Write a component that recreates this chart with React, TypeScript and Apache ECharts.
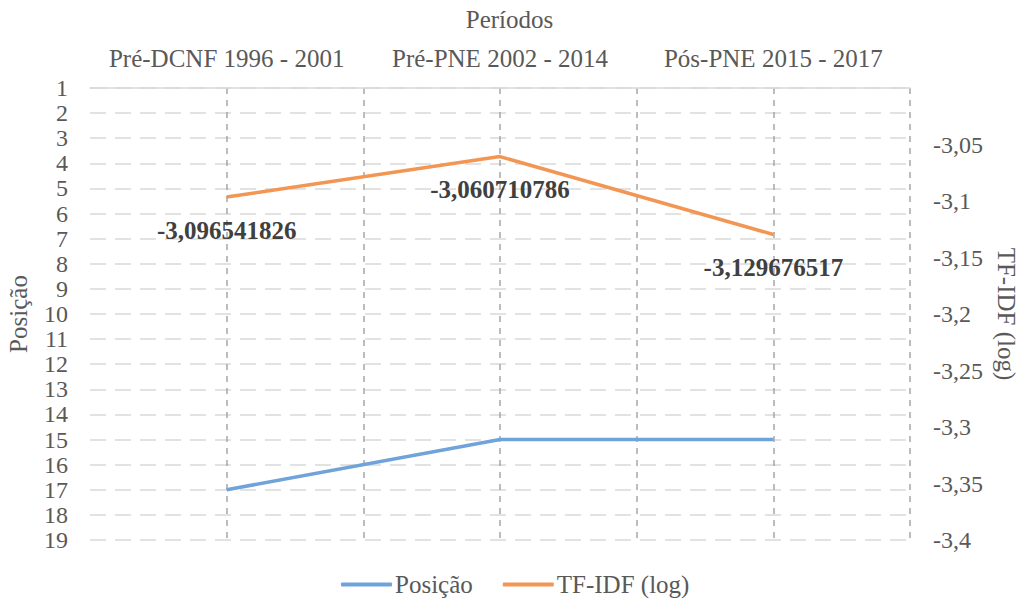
import React, { useEffect, useRef } from "react";
import * as echarts from "echarts";

const categories = ["Pré-DCNF 1996 - 2001", "Pré-PNE 2002 - 2014", "Pós-PNE 2015 - 2017"];
const posicao = [17, 15, 15];
const tfidf = [-3.096541826, -3.060710786, -3.129676517];
const FONT = "'Liberation Serif', 'Times New Roman', serif";
const TXT = "#595959";

export default function App() {
  const ref = useRef<HTMLDivElement>(null);
  useEffect(() => {
    if (!ref.current) return;
    const chart = echarts.init(ref.current, undefined, { renderer: "svg" });
    const fmtComma = (v: number) => String(v).replace(".", ",");
    chart.setOption({
      animation: false,
      textStyle: { fontFamily: FONT },
      title: {
        text: "Períodos",
        left: "center",
        top: 2,
        textStyle: { fontFamily: FONT, fontSize: 25, fontWeight: "normal", color: TXT },
      },
      legend: {
        top: 567,
        left: 336,
        icon: "roundRect",
        itemWidth: 51,
        itemHeight: 4,
        itemGap: 30,
        textStyle: { fontFamily: FONT, fontSize: 25, color: TXT, padding: [0, 0, 0, -2] },
        data: ["Posição", "TF-IDF (log)"],
      },
      grid: { left: 90, right: 109, top: 88, bottom: 63, containLabel: false, outerBoundsMode: "none" },
      xAxis: [
        {
          type: "category",
          data: categories,
          position: "top",
          boundaryGap: true,
          axisLine: { show: true, lineStyle: { color: "#d9d9d9", width: 1.5 } },
          axisTick: { show: false },
          splitLine: { show: false },
          axisLabel: {
            fontFamily: FONT,
            fontSize: 25,
            color: TXT,
            margin: 17,
            interval: 0,
            hideOverlap: false,
          },
        },
        {
          type: "value",
          min: 0,
          max: 6,
          interval: 1,
          position: "bottom",
          show: true,
          axisLine: { show: false },
          axisTick: { show: false },
          axisLabel: { show: false },
          splitLine: {
            show: true,
            lineStyle: {
              color: ["rgba(0,0,0,0)", "#a6a6a6", "#a6a6a6", "#a6a6a6", "#a6a6a6", "#a6a6a6", "#a6a6a6"],
              type: [6, 6],
              width: 1.5,
            },
          },
        },
      ],
      yAxis: [
        {
          type: "value",
          min: 1,
          max: 19,
          interval: 1,
          inverse: true,
          position: "left",
          name: "Posição",
          nameLocation: "middle",
          nameGap: 59,
          nameTextStyle: { fontFamily: FONT, fontSize: 25, color: TXT },
          axisLine: { show: false },
          axisTick: { show: false },
          axisLabel: { fontFamily: FONT, fontSize: 24, color: TXT, margin: 22 },
          splitLine: { show: true, lineStyle: { color: "#d9d9d9", type: [16, 9], width: 1.5 } },
        },
        {
          type: "value",
          min: -3.4,
          max: -3.0,
          interval: 0.05,
          position: "right",
          name: "TF-IDF (log)",
          nameLocation: "middle",
          nameGap: 82,
          nameRotate: -90,
          nameTextStyle: { fontFamily: FONT, fontSize: 25, color: TXT },
          axisLine: { show: false },
          axisTick: { show: false },
          axisLabel: {
            fontFamily: FONT,
            fontSize: 24,
            color: TXT,
            margin: 23,
            formatter: (v: number) => (v > -3.01 ? "" : fmtComma(Math.round(v * 100) / 100)),
          },
          splitLine: { show: false },
        },
      ],
      series: [
        {
          name: "Posição",
          type: "line",
          xAxisIndex: 0,
          yAxisIndex: 0,
          data: posicao,
          symbol: "none",
          lineStyle: { color: "#6FA3D9", width: 3.5 },
          itemStyle: { color: "#6FA3D9" },
        },
        {
          name: "TF-IDF (log)",
          type: "line",
          xAxisIndex: 0,
          yAxisIndex: 1,
          data: tfidf,
          symbol: "circle",
          symbolSize: 1,
          showSymbol: true,
          lineStyle: { color: "#F39553", width: 3.5 },
          itemStyle: { color: "#F39553" },
          label: {
            show: true,
            position: "bottom",
            distance: 20,
            fontFamily: FONT,
            fontSize: 25,
            fontWeight: "bold",
            color: "#404040",
            formatter: (p: any) => fmtComma(p.value),
          },
        },
      ],
    });
    return () => chart.dispose();
  }, []);
  return (
    <div
      ref={ref}
      style={{ position: "absolute", left: 0, top: 0, width: 1019, height: 603 }}
    />
  );
}
